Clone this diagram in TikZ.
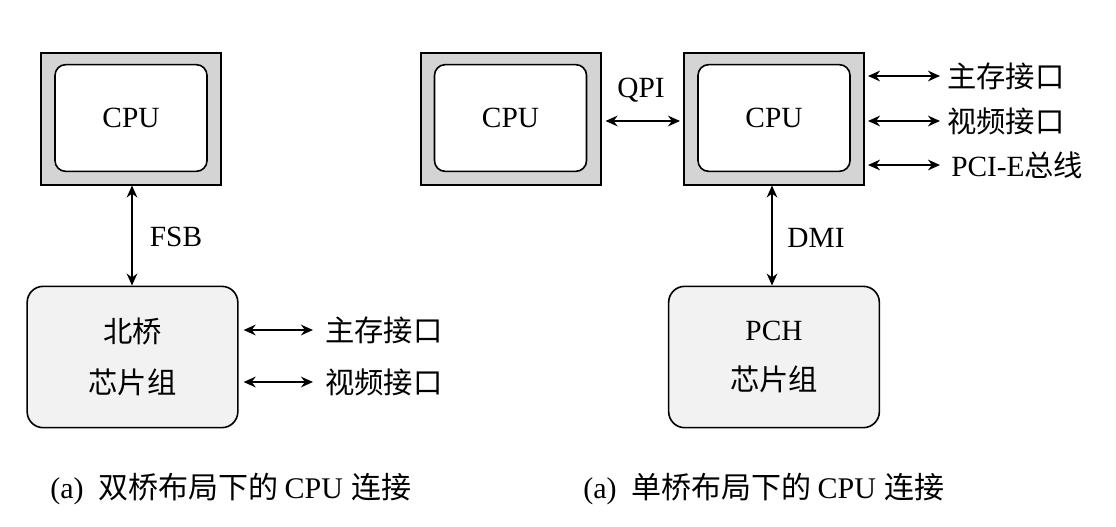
\documentclass[tikz,border=0pt]{standalone}
\usepackage{fontspec}
\setmainfont{Liberation Serif}
\newfontfamily\cjk{Noto Sans CJK SC}
\usetikzlibrary{arrows.meta,calc}
\begin{document}
\begin{tikzpicture}[x=0.75pt,y=-0.75pt,
  outerbox/.style={draw=black,line width=1.5pt,fill=black!17,minimum width=135pt,minimum height=99pt,inner sep=0pt},
  innerbox/.style={draw=black,line width=1.2pt,fill=white,rounded corners=8pt,minimum width=114pt,minimum height=80pt,inner sep=0pt,font=\fontsize{22}{24}\selectfont},
  chipbox/.style={draw=black,line width=1.2pt,fill=black!5,rounded corners=12pt,minimum width=158pt,minimum height=106pt,inner sep=0pt,align=center,font=\fontsize{22}{38}\selectfont},
  lbl/.style={font=\fontsize{22}{24}\selectfont,inner sep=0pt},
  caplbl/.style={font=\fontsize{22.5}{24}\selectfont,inner sep=0pt},
  biarrow/.style={line width=1.6pt,{Stealth[length=9pt,width=8pt]}-{Stealth[length=9pt,width=8pt]}}
]
\useasboundingbox[fill=white] (0,0) rectangle (1116,526);
% left
\node[outerbox] (cpuLo) at (131,118.5) {};
\node[innerbox] (cpuL) at (131,118) {CPU};
\node[chipbox] (nb) at (132.5,357) {{\cjk 北桥}\\{\cjk 芯片组}};
\draw[biarrow] (cpuLo.south -| 132,0) -- (nb.north -| 132,0);
\node[lbl] (fsb) at (176,237) {FSB};
\coordinate (m1) at (313,330);
\coordinate (m2) at (313,382);
\draw[biarrow] ($(nb.east |- m1)+(5,0)$) -- (m1);
\draw[biarrow] ($(nb.east |- m2)+(5,0)$) -- (m2);
\node[lbl,anchor=west] (mem1) at (325,330) {\cjk 主存接口};
\node[lbl,anchor=west] (vid1) at (325,382) {\cjk 视频接口};
\node[caplbl,anchor=west] (cap1) at (50,489) {(a)\hspace{0.5em}{\cjk 双桥布局下的}\hspace{0.2em}CPU\hspace{0.3em}{\cjk 连接}};
% right
\node[outerbox] (cpuAo) at (510.5,118.5) {};
\node[innerbox] (cpuA) at (510.5,118) {CPU};
\node[outerbox] (cpuBo) at (774,118.5) {};
\node[innerbox] (cpuB) at (774,118) {CPU};
\coordinate (q) at (0,121);
\draw[biarrow] ($(cpuAo.east |- q)+(4,0)$) -- ($(cpuBo.west |- q)+(-3,0)$);
\node[lbl] (qpi) at (641,90) {QPI};
\node[chipbox] (pch) at (774,357) {PCH\\{\cjk 芯片组}};
\coordinate (d) at (772,0);
\draw[biarrow] (cpuBo.south -| d) -- (pch.north -| d);
\node[lbl] (dmi) at (816,238) {DMI};
\coordinate (r1) at (940,76);
\coordinate (r2) at (940,121);
\coordinate (r3) at (940,165);
\draw[biarrow] ($(cpuBo.east |- r1)+(3,0)$) -- (r1);
\draw[biarrow] ($(cpuBo.east |- r2)+(3,0)$) -- (r2);
\draw[biarrow] ($(cpuBo.east |- r3)+(3,0)$) -- (r3);
\node[lbl,anchor=west] (mem2) at (947,76) {\cjk 主存接口};
\node[lbl,anchor=west] (vid2) at (947,121) {\cjk 视频接口};
\node[lbl,anchor=west] (pcie) at (951,165) {PCI-E{\cjk 总线}};
\node[caplbl,anchor=west] (cap2) at (583,489) {(a)\hspace{0.5em}{\cjk 单桥布局下的}\hspace{0.2em}CPU\hspace{0.3em}{\cjk 连接}};
\end{tikzpicture}
\end{document}
